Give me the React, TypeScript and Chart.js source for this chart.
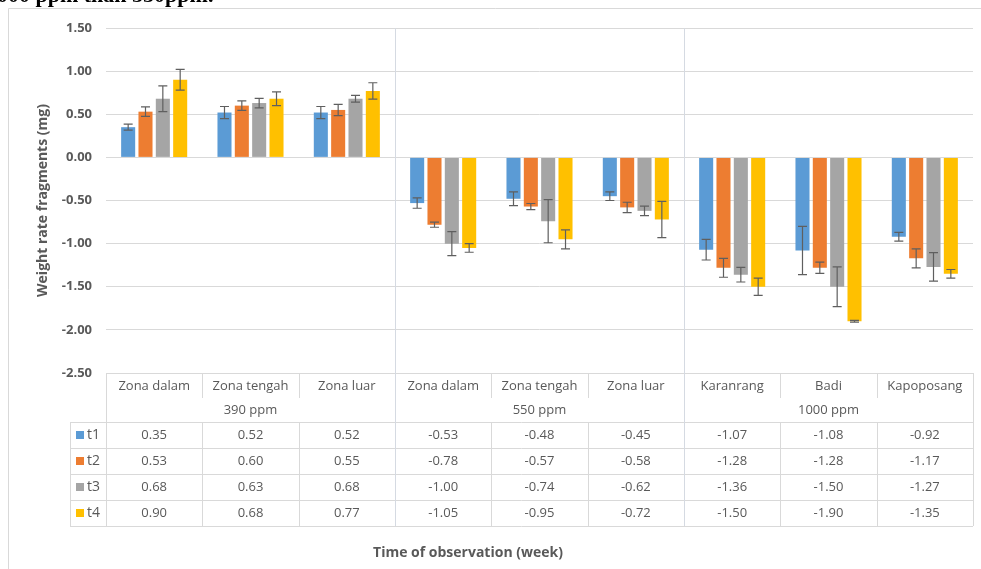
import { useEffect, useRef } from "react";
import { Chart, registerables } from "chart.js";

Chart.register(...registerables);

const categories = [
  "Zona dalam", "Zona tengah", "Zona luar",
  "Zona dalam", "Zona tengah", "Zona luar",
  "Karanrang", "Badi", "Kapoposang",
];
const groups = ["390 ppm", "550 ppm", "1000 ppm"];
const groupSpan = [3, 3, 3];
const seriesNames = ["t1", "t2", "t3", "t4"];
const seriesColors = ["#5B9BD5", "#ED7D31", "#A5A5A5", "#FFC000"];

const t1 = [0.35, 0.52, 0.52, -0.53, -0.48, -0.45, -1.07, -1.08, -0.92];
const t2 = [0.53, 0.6, 0.55, -0.78, -0.57, -0.58, -1.28, -1.28, -1.17];
const t3 = [0.68, 0.63, 0.68, -1.0, -0.74, -0.62, -1.36, -1.5, -1.27];
const t4 = [0.9, 0.68, 0.77, -1.05, -0.95, -0.72, -1.5, -1.9, -1.35];

const t1Err = [0.035, 0.07, 0.07, 0.06, 0.08, 0.05, 0.12, 0.28, 0.05];
const t2Err = [0.055, 0.055, 0.065, 0.03, 0.035, 0.06, 0.11, 0.065, 0.11];
const t3Err = [0.15, 0.055, 0.04, 0.14, 0.25, 0.055, 0.085, 0.23, 0.165];
const t4Err = [0.12, 0.08, 0.095, 0.05, 0.11, 0.21, 0.1, 0.01, 0.05];

const yMin = -2.5;
const yMax = 1.5;
const yStep = 0.5;

const yTitle = "Weight rate fragments (mg)";
const xTitle = "Time of observation (week)";

const seriesValues = [t1, t2, t3, t4];
const seriesErrors = [t1Err, t2Err, t3Err, t4Err];

const FONT = "'Open Sans', Lato, sans-serif";
const TEXT = "#595959";
const LINE = "#d9d9d9";

const errorBarPlugin = {
  id: "errorBars",
  afterDatasetsDraw(chart: any) {
    const ctx = chart.ctx;
    const y = chart.scales.y;
    ctx.save();
    ctx.strokeStyle = "#5f5f5f";
    ctx.lineWidth = 1.2;
    chart.data.datasets.forEach((ds: any, di: number) => {
      const meta = chart.getDatasetMeta(di);
      const errs = seriesErrors[di];
      meta.data.forEach((bar: any, i: number) => {
        const v = ds.data[i];
        const e = errs[i];
        const top = y.getPixelForValue(v + e);
        const bot = y.getPixelForValue(v - e);
        const cx = bar.x;
        const hw = 4.5;
        ctx.beginPath();
        ctx.moveTo(cx, top);
        ctx.lineTo(cx, bot);
        ctx.moveTo(cx - hw, top);
        ctx.lineTo(cx + hw, top);
        ctx.moveTo(cx - hw, bot);
        ctx.lineTo(cx + hw, bot);
        ctx.stroke();
      });
    });
    ctx.restore();
  },
};

const tablePlugin = {
  id: "dataTable",
  beforeDraw(chart: any) {
    const ctx = chart.ctx;
    ctx.save();
    ctx.fillStyle = "#ffffff";
    ctx.fillRect(0, 0, chart.width, chart.height);
    ctx.strokeStyle = "#d9d9d9";
    ctx.lineWidth = 1;
    ctx.beginPath();
    ctx.moveTo(8.5, chart.height + 5);
    ctx.lineTo(8.5, 8.5);
    ctx.lineTo(chart.width + 5, 8.5);
    ctx.stroke();
    ctx.restore();
  },
  afterDraw(chart: any) {
    const ctx = chart.ctx;
    const x = chart.scales.x;
    const area = chart.chartArea;
    const n = categories.length;
    const cw = (area.right - area.left) / n;
    const colL = (i: number) => x.getPixelForValue(i) - cw / 2;
    const headTop = area.bottom;
    const catH = 25;
    const grpH = 24;
    const rowH = 26;
    const dataTop = headTop + catH + grpH;
    const tableBottom = dataTop + rowH * seriesNames.length;
    const legendLeft = 70;
    const px = (v: number) => Math.round(v) + 0.5;

    ctx.save();
    ctx.lineWidth = 1;
    ctx.strokeStyle = LINE;
    ctx.beginPath();
    ctx.moveTo(area.left, px(headTop));
    ctx.lineTo(area.right, px(headTop));
    let b = 0;
    const boundaries: number[] = [];
    groupSpan.forEach((s) => {
      b += s;
      boundaries.push(b);
    });
    for (let i = 1; i < n; i++) {
      if (boundaries.includes(i)) continue;
      ctx.moveTo(px(colL(i)), headTop);
      ctx.lineTo(px(colL(i)), headTop + catH);
    }
    ctx.moveTo(px(area.left), headTop);
    ctx.lineTo(px(area.left), tableBottom);
    ctx.moveTo(px(area.right), headTop);
    ctx.lineTo(px(area.right), tableBottom);
    for (let r = 0; r <= seriesNames.length; r++) {
      const yy = px(dataTop + r * rowH);
      ctx.moveTo(legendLeft, yy);
      ctx.lineTo(area.right, yy);
    }
    ctx.moveTo(px(legendLeft), dataTop);
    ctx.lineTo(px(legendLeft), tableBottom);
    for (let i = 1; i < n; i++) {
      if (boundaries.includes(i)) continue;
      ctx.moveTo(px(colL(i)), dataTop);
      ctx.lineTo(px(colL(i)), tableBottom);
    }
    ctx.stroke();

    ctx.strokeStyle = "#d5dae2";
    ctx.beginPath();
    boundaries.slice(0, -1).forEach((bi) => {
      ctx.moveTo(px(colL(bi)), area.top);
      ctx.lineTo(px(colL(bi)), tableBottom);
    });
    ctx.stroke();

    ctx.fillStyle = TEXT;
    ctx.font = `13px ${FONT}`;
    ctx.textAlign = "center";
    ctx.textBaseline = "middle";
    categories.forEach((c, i) => {
      ctx.fillText(c, x.getPixelForValue(i), headTop + 13);
    });
    let start = 0;
    groups.forEach((g, gi) => {
      const l = colL(start);
      const r = colL(start + groupSpan[gi]);
      ctx.fillText(g, (l + r) / 2, headTop + catH + 12);
      start += groupSpan[gi];
    });
    seriesNames.forEach((s, si) => {
      const cy = dataTop + si * rowH + rowH / 2;
      seriesValues[si].forEach((v, i) => {
        ctx.fillStyle = TEXT;
        ctx.textAlign = "center";
        ctx.fillText(v.toFixed(2), x.getPixelForValue(i), cy + 0.5);
      });
      ctx.fillStyle = seriesColors[si];
      ctx.fillRect(76, Math.round(cy - 4), 8, 8);
      ctx.fillStyle = TEXT;
      ctx.textAlign = "left";
      ctx.font = `14px ${FONT}`;
      ctx.fillText(s, 87, cy + 0.5);
      ctx.font = `13px ${FONT}`;
    });

    ctx.font = `bold 14px ${FONT}`;
    ctx.textAlign = "center";
    ctx.fillStyle = TEXT;
    ctx.fillText(xTitle, 468, 553);
    ctx.restore();
  },
};

export default function App() {
  const ref = useRef<HTMLCanvasElement>(null);
  useEffect(() => {
    if (!ref.current) return;
    const chart = new Chart(ref.current, {
      type: "bar",
      data: {
        labels: categories,
        datasets: seriesNames.map((name, i) => ({
          label: name,
          data: seriesValues[i],
          backgroundColor: seriesColors[i],
          borderWidth: 0,
          categoryPercentage: 0.72,
          barPercentage: 0.81,
        })),
      },
      options: {
        animation: false,
        responsive: false,
        maintainAspectRatio: false,
        layout: { padding: { left: 8, right: 8, top: 28, bottom: 196 } },
        plugins: {
          legend: { display: false },
          tooltip: { enabled: false },
          title: { display: false },
        },
        scales: {
          x: { display: false },
          y: {
            min: yMin,
            max: yMax,
            afterFit: (scale: any) => {
              scale.width = 98;
            },
            ticks: {
              stepSize: yStep,
              padding: 14,
              color: TEXT,
              font: { family: FONT, size: 13, weight: "bold" },
              callback: (v: any) => Number(v).toFixed(2),
            },
            grid: { color: LINE, drawTicks: false, lineWidth: 1 },
            border: { display: false },
            title: {
              display: true,
              text: yTitle,
              color: TEXT,
              font: { family: FONT, size: 14, weight: "bold" },
              padding: { top: 27, bottom: 0 },
            },
          },
        },
      },
      plugins: [errorBarPlugin, tablePlugin],
    });
    return () => chart.destroy();
  }, []);
  return (
    <div style={{ position: "fixed", left: 0, top: 0, width: 981, height: 569, overflow: "hidden", background: "#fff" }}>
      <canvas ref={ref} width={981} height={569} style={{ display: "block" }} />
      <div
        style={{
          position: "absolute",
          left: -14,
          top: -18,
          fontFamily: "'Liberation Serif', 'DejaVu Serif', serif",
          fontSize: 22,
          fontWeight: "bold",
          color: "#000",
          whiteSpace: "nowrap",
        }}
      >
        1000 ppm than 550ppm.
      </div>
    </div>
  );
}
